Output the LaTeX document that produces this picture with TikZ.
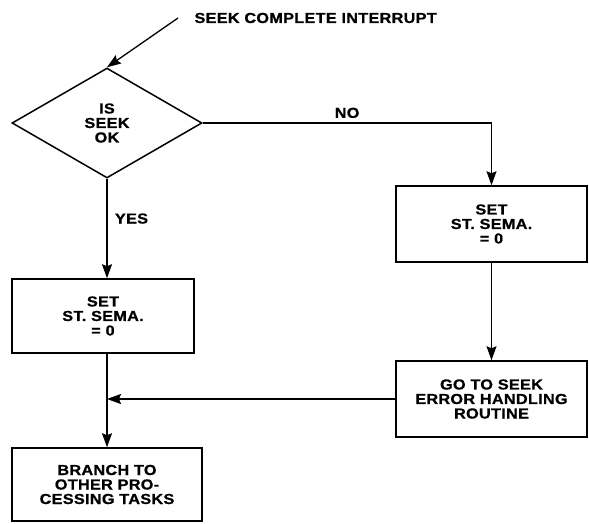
\documentclass[tikz,border=0pt]{standalone}
\usepackage{fontspec}
\newfontfamily\chartfont{Liberation Sans Bold}[LetterSpace=2, FakeStretch=1.12, FakeBold=0.8]
\usetikzlibrary{shapes.geometric,arrows.meta}

\tikzset{
  chart/.style={font=\chartfont\fontsize{14.5}{14.5}\selectfont, align=center},
  stepbox/.style={chart, draw, line width=1.5pt, inner sep=0pt},
  flow/.style={line width=1.3pt, -{Stealth[length=14pt,width=10pt,inset=2pt]}},
  plain/.style={line width=1.3pt}
}

\begin{document}
\begin{tikzpicture}[x=1pt, y=-1pt]
        % --- FRAME ---
        \useasboundingbox (0,0) rectangle (589,523);

        % --- DECISION ---
        \node[chart, draw, diamond, line width=1.5pt, inner sep=0pt,
              minimum width=190pt, minimum height=110pt] (test) at (107,123) {IS\\SEEK\\OK};
        \node[chart, anchor=west] (intr) at (191,18) {SEEK COMPLETE INTERRUPT};
        \coordinate (intrin) at (178,18);

        % --- BOXES ---
        \node[stepbox, minimum width=182pt, minimum height=74pt] (setl) at (103,316) {SET\\ST. SEMA.\\= 0};
        \node[stepbox, minimum width=191pt, minimum height=76pt] (setr) at (491.5,224) {SET\\ST. SEMA.\\= 0};
        \node[stepbox, minimum width=191pt, minimum height=76pt] (goerr) at (491.5,399) {GO TO SEEK\\ERROR HANDLING\\ROUTINE};
        \node[stepbox, minimum width=190pt, minimum height=73pt] (branch) at (107,484.5) {BRANCH TO\\OTHER PRO-\\CESSING TASKS};
        \coordinate (join) at (test.south |- goerr.west);

        % --- CONNECTORS ---
        \draw[flow] (intrin) -- (test.north);
        \draw[flow] (test.east) -| (setr.north) node[chart, pos=0.25, above=1pt] (no) {NO};
        \draw[flow] (test.south) -- (test.south |- setl.north) node[chart, pos=0.4, right=4pt] (yes) {YES};
        \draw[flow] (setr.south) -- (goerr.north);
        \draw[plain] (test.south |- setl.south) -- (join);
        \draw[flow] (goerr.west) -- (join);
        \draw[flow] (join) -- (branch.north -| join);
\end{tikzpicture}
\end{document}
